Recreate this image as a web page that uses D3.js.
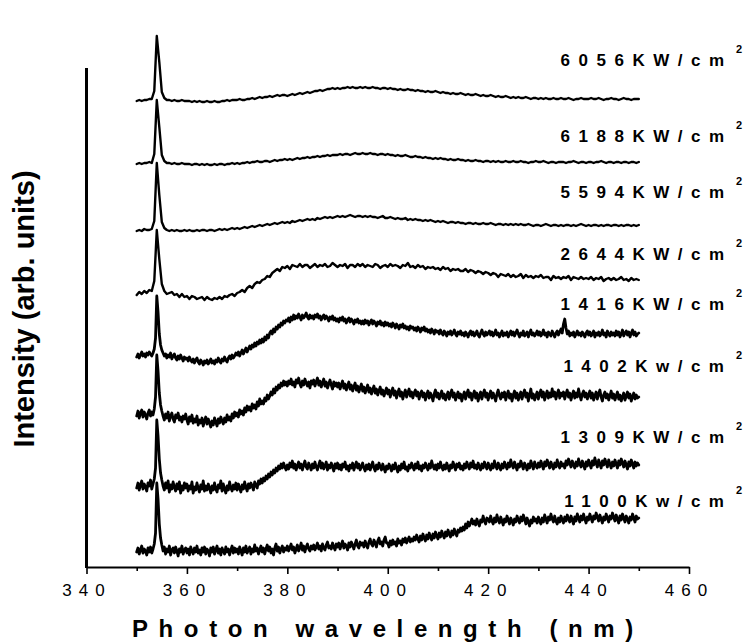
<!DOCTYPE html>
<html>
<head>
<meta charset="utf-8">
<script src="https://cdn.jsdelivr.net/npm/d3@7"></script>
<style>
  body { margin: 0; background: #fff; }
  svg { display: block; }
  text { font-family: Arial, "Liberation Sans", sans-serif; fill: #000; }
</style>
</head>
<body>
<svg id="chart" width="745" height="643"></svg>
<script>
// Emission spectra from 350 to 450 nm, stacked with vertical offsets (arb. units).
// The four high-power spectra were recorded every 0.5 nm, the others every 0.25 nm.
const wavelengthFrom = 350;
const xTickValues = [340, 350, 360, 370, 380, 390, 400, 410, 420, 430, 440, 450, 460];
const xLabelValues = [340, 360, 380, 400, 420, 440, 460];

const powerLabels = ["6056KW/cm", "6188KW/cm", "5594KW/cm", "2644KW/cm",
                     "1416KW/cm", "1402Kw/cm", "1309KW/cm", "1100Kw/cm"];
const sampleSteps = [0.5, 0.5, 0.5, 0.5, 0.25, 0.25, 0.25, 0.25];

const s6056 = [
  466,467,466,467,467,468,468,476,531,505, 475,469,467,467,466,467,466,466,467,466,
  466,466,465,466,465,466,465,465,466,465, 465,466,465,465,466,466,467,466,467,467,
  467,468,467,467,468,468,469,468,469,470, 469,470,470,471,470,471,472,471,472,472,
  471,472,473,472,473,474,473,474,475,474, 475,476,476,477,476,477,478,478,479,478,
  479,478,479,479,480,479,480,479,479,480, 479,480,479,479,480,479,479,478,479,479,
  478,479,478,478,477,478,477,477,478,477, 477,476,477,476,476,475,476,475,475,476,
  475,474,475,474,474,473,474,473,473,474, 473,472,473,472,472,473,472,471,472,471,
  471,472,471,470,471,470,470,471,470,469, 470,469,470,469,469,470,469,468,469,469,
  468,469,468,469,468,468,469,468,468,469, 468,468,469,468,467,468,468,469,468,468,
  468,469,468,468,469,468,467,468,468,469, 468,468,467,468,469,468,468,467,468,468,
  468
];
const s6188 = [
  403,404,403,404,404,405,404,413,467,440, 412,406,404,404,403,404,403,403,404,403,
  403,403,402,403,403,402,403,402,403,402, 402,403,402,403,403,402,403,403,404,403,
  404,403,404,404,405,404,405,405,406,405, 405,406,406,405,406,407,406,407,407,408,
  407,408,407,408,409,408,409,409,410,409, 410,410,411,410,411,411,412,411,412,412,
  412,413,412,413,413,412,413,414,413,413, 414,413,413,414,413,413,412,413,413,412,
  413,412,412,411,412,411,411,412,411,410, 410,411,410,410,409,410,409,409,408,409,
  408,409,408,408,407,408,407,407,408,407, 407,406,407,406,406,407,406,406,405,406,
  406,405,406,405,406,405,405,406,405,405, 406,405,405,406,405,405,404,405,405,406,
  405,405,406,405,404,405,405,404,405,405, 405,404,405,405,406,405,404,405,405,404,
  405,405,404,405,405,406,405,404,405,405, 404,405,405,404,405,405,404,405,405,404,
  405
];
const s5594 = [
  336,337,336,338,337,337,338,346,404,372, 345,339,337,336,337,336,337,336,336,337,
  336,337,336,336,337,336,337,337,336,337, 337,336,337,338,337,338,337,338,339,338,
  339,338,339,340,339,340,341,340,341,342, 341,342,343,342,343,344,343,344,345,344,
  345,344,346,345,346,347,346,347,348,347, 348,347,349,348,349,350,349,350,349,350,
  351,350,351,350,351,352,351,350,351,351, 350,351,350,351,350,350,349,350,351,349,
  349,350,349,348,349,348,348,349,347,348, 347,348,347,347,346,347,346,347,346,345,
  346,345,346,345,344,345,345,344,345,344, 344,343,344,344,343,344,343,343,344,343,
  343,344,343,342,343,343,342,343,342,343, 342,343,342,343,342,342,343,342,341,342,
  342,341,342,343,342,341,342,342,341,342, 341,342,342,341,342,341,342,343,342,341,
  342,341,342,342,341,342,341,342,342,341, 342,342,341,342,341,342,342,341,342,341,
  342
];
const s2644 = [
  272,275,273,276,274,277,276,286,337,308, 283,276,273,274,275,272,273,270,273,270,
  271,268,271,270,268,269,270,267,270,268, 267,269,268,270,268,271,270,272,273,271,
  274,275,277,275,279,281,279,283,285,284, 287,288,291,290,294,296,298,296,300,299,
  301,298,302,301,300,303,300,302,302,299, 301,303,300,302,301,303,300,301,304,302,
  300,302,301,303,299,302,302,300,303,301, 303,300,302,301,300,303,302,299,301,302,
  300,303,301,302,301,299,302,301,304,300, 301,299,302,300,301,298,300,299,300,298,
  299,297,300,298,299,296,298,297,298,296, 296,298,295,297,296,294,296,295,293,295,
  294,292,294,293,290,293,292,291,293,290, 292,290,291,293,289,292,290,291,289,291,
  290,292,289,290,290,287,291,289,290,288, 290,289,291,287,290,289,288,290,288,289,
  288,290,287,289,288,290,286,288,289,287, 289,287,288,290,287,288,286,289,287,288,
  287
];
const s1416 = [
  210,213,209,212,215,211,213,210,214,212, 215,213,211,214,218,229,271,255,233,222,
  217,214,211,213,209,212,210,214,208,211, 213,209,207,211,208,212,209,206,210,208,
  209,206,210,207,205,208,204,207,209,205, 203,207,205,202,206,204,207,203,205,208,
  204,206,203,207,205,209,206,204,208,206, 210,207,205,209,211,208,212,209,211,214,
  212,215,211,214,217,213,216,219,215,218, 221,218,222,220,224,221,225,223,227,224,
  228,225,230,227,232,229,234,236,233,238, 235,240,238,242,240,244,242,246,244,247,
  246,249,245,250,247,252,248,251,249,253, 250,247,252,249,251,254,250,248,252,249,
  251,248,252,250,253,249,251,247,250,252, 248,251,249,246,250,248,251,247,249,246,
  248,245,249,247,250,246,248,244,247,249, 245,248,246,243,247,245,248,244,246,243,
  246,243,247,244,246,242,245,247,243,246, 244,241,245,243,246,242,244,241,245,242,
  244,241,243,240,244,242,239,243,241,238, 242,240,243,239,241,238,240,237,241,239,
  240,237,239,236,240,238,235,239,237,240, 236,238,235,237,234,238,236,233,237,235,
  236,233,237,234,232,236,234,231,235,233, 236,232,234,237,233,231,235,233,236,232,
  234,231,235,233,230,234,236,232,235,231, 233,236,232,230,234,237,233,231,235,232,
  234,236,232,235,231,233,237,232,234,230, 233,236,231,234,232,235,230,233,236,232,
  235,231,234,237,233,230,234,232,236,231, 233,235,230,234,237,232,234,231,233,236,
  232,235,231,233,237,232,234,230,235,233, 231,236,233,230,234,236,232,235,238,234,
  243,248,239,233,236,231,234,232,235,230, 233,236,232,234,231,235,233,230,234,236,
  232,235,231,233,236,230,234,232,235,231, 233,237,232,234,230,236,233,231,235,232,
  234,231,236,232,235,230,233,237,231,234, 236,232,235,230,234,237,232,235,231,233,
  234
];
const s1402 = [
  151,156,149,154,157,150,155,152,148,154, 157,151,155,152,158,170,212,196,174,162,
  156,151,147,153,149,155,146,151,154,148, 145,152,149,154,147,150,145,151,148,153,
  147,143,150,146,152,144,148,145,151,142, 147,144,149,141,146,150,143,148,144,140,
  146,142,149,145,141,148,144,150,146,143, 149,145,152,147,150,146,153,149,155,151,
  154,150,157,153,156,152,159,155,161,157, 160,156,163,159,162,158,165,161,168,163,
  166,163,169,166,172,168,171,175,172,178, 174,180,177,182,179,184,181,186,182,185,
  181,186,183,188,182,185,180,187,184,189, 183,180,186,182,188,184,181,185,179,186,
  183,187,181,185,189,182,186,180,184,188, 181,185,179,183,187,182,178,185,181,184,
  180,184,178,182,186,179,183,177,181,185, 178,182,176,180,184,177,181,175,179,183,
  176,180,174,178,182,175,179,173,177,181, 174,178,172,176,180,173,177,171,175,179,
  173,177,170,175,179,172,176,169,174,178, 171,175,168,173,177,170,174,178,171,175,
  169,174,177,171,175,168,173,176,170,174, 167,172,176,169,174,171,166,173,177,170,
  174,168,172,176,169,173,167,171,175,168, 173,177,170,174,167,171,175,169,173,166,
  171,175,168,173,177,170,174,167,172,176, 169,174,166,171,175,168,173,177,170,174,
  167,172,176,169,174,170,166,173,177,171, 168,174,170,175,167,172,176,169,173,166,
  172,176,169,174,167,171,175,168,173,177, 170,174,166,172,178,169,173,167,171,175,
  168,173,177,170,175,167,172,176,169,174, 170,178,171,175,168,173,177,169,174,171,
  175,168,173,177,170,174,167,172,176,169, 174,170,178,172,167,173,176,170,174,168,
  172,176,169,174,167,171,175,168,173,177, 170,166,172,175,169,173,167,171,176,169,
  173,167,171,175,168,172,166,170,174,167, 171,175,169,173,166,170,174,168,172,169,
  170
];
const s1309 = [
  79,84,77,82,86,78,83,80,76,84, 81,87,78,83,88,99,147,131,108,94,
  87,81,77,84,79,86,75,82,78,85, 80,76,83,78,85,74,81,77,84,79,
  83,76,81,78,85,74,80,77,84,79, 75,82,78,86,76,81,77,83,79,74,
  81,77,84,78,75,82,79,86,76,83, 78,74,81,77,85,79,76,82,78,84,
  77,83,79,75,82,78,85,80,76,83, 79,84,81,77,85,82,79,86,83,88,
  84,89,86,91,88,93,90,95,92,97, 94,99,96,101,98,103,99,104,100,97,
  102,98,104,100,106,99,103,97,101,105, 99,103,97,102,106,100,98,104,101,97,
  103,99,105,100,97,102,106,99,104,98, 101,105,97,102,99,104,100,96,103,99,
  104,98,102,97,103,100,105,98,101,96, 102,99,104,97,101,105,99,103,97,100,
  104,99,96,102,98,103,97,101,105,99, 96,102,98,104,100,97,103,99,95,101,
  98,103,100,96,102,98,104,99,95,101, 97,103,99,105,98,100,96,102,99,104,
  100,97,103,99,105,98,101,96,102,99, 104,100,97,103,99,106,101,98,102,97,
  103,99,105,100,97,102,98,104,100,96, 102,99,105,101,97,103,100,104,98,101,
  97,103,99,105,101,98,104,100,106,99, 102,98,104,100,97,103,99,105,101,98,
  104,100,97,103,99,106,101,98,104,100, 97,103,99,105,101,98,104,100,107,102,
  99,105,101,97,103,100,106,102,98,104, 101,97,103,99,106,102,98,105,101,99,
  104,100,106,102,98,105,101,107,103,99, 105,101,98,104,100,107,102,99,105,101,
  103,99,106,102,108,104,100,106,102,99, 105,101,108,103,100,106,102,98,105,101,
  107,103,99,106,102,109,104,100,107,103, 99,106,102,108,104,100,107,103,99,105,
  101,107,103,99,106,102,108,104,100,106, 102,98,105,101,107,103,99,105,101,104,
  102
];
const s1100 = [
  15,19,13,17,21,14,18,16,12,19, 15,20,14,18,23,34,84,68,43,29,
  22,16,20,13,18,15,21,12,17,19, 14,20,16,11,18,15,21,13,17,19,
  14,18,12,20,16,13,19,15,21,14, 17,12,19,15,20,13,18,16,11,19,
  15,20,13,17,21,14,18,12,19,16, 13,20,15,18,12,17,21,14,19,15,
  18,13,20,16,12,19,15,21,14,17, 20,13,18,15,22,16,19,13,17,21,
  15,19,13,18,22,16,20,14,18,12, 19,23,16,20,14,18,21,15,19,17,
  21,16,19,23,17,20,14,18,22,16, 19,24,17,21,15,20,23,18,16,21,
  18,22,17,20,24,18,21,16,23,19, 17,22,25,19,21,18,24,20,17,23,
  20,24,18,22,26,19,23,21,17,24, 20,25,22,18,23,27,21,19,25,22,
  24,20,26,22,19,25,28,23,21,27, 24,20,26,29,23,25,21,27,30,24,
  24,20,26,22,27,23,25,21,28,24, 26,22,28,25,29,24,27,30,25,28,
  26,30,27,32,28,25,31,27,33,29, 26,32,28,34,30,27,33,29,35,31,
  28,34,30,36,32,29,35,31,37,33, 30,36,32,38,34,31,37,35,39,36,
  40,37,43,39,45,41,44,48,43,46, 42,48,44,41,47,45,51,46,43,49,
  48,45,51,46,43,49,45,52,47,44, 50,46,42,48,45,51,47,43,49,46,
  42,48,45,51,47,44,50,46,52,48, 43,49,45,41,47,44,50,46,48,44,
  50,46,43,49,45,52,48,44,50,47, 53,48,45,51,46,43,49,45,51,47,
  44,50,46,52,48,45,51,47,43,50, 46,53,49,45,51,47,53,48,44,50,
  47,53,49,45,51,48,54,50,46,52, 48,44,50,47,53,49,45,51,48,54,
  50,46,52,48,44,51,47,53,49,45, 51,48,44,50,47,53,49,45,51,48,
  49
];

const spectra = [s6056, s6188, s5594, s2644, s1416, s1402, s1309, s1100]
  .map((values, k) => ({ values, step: sampleSteps[k] }));

const svg = d3.select("#chart");
svg.append("rect").attr("width", 745).attr("height", 643).attr("fill", "#fff");

const x = d3.scaleLinear().domain([340, 460]).range([86.5, 689]);
const y = d3.scaleLinear().domain([0, 499]).range([567, 68]);

// bottom axis: long ticks every 20 nm with labels, short ticks in between
const xAxis = d3.axisBottom(x)
  .tickValues(xTickValues)
  .tickSizeOuter(0)
  .tickFormat(d => xLabelValues.includes(d) ? d : "");
const gx = svg.append("g").attr("transform", `translate(0,${y(0)})`).call(xAxis);
gx.select(".domain").attr("stroke", "#000").attr("stroke-width", 2);
gx.selectAll(".tick line")
  .attr("stroke", "#000").attr("stroke-width", 1.6)
  .attr("y2", d => xLabelValues.includes(d) ? 7 : 4);
gx.selectAll(".tick text")
  .attr("y", 29).attr("dy", 0)
  .style("font-family", 'Arial, "Liberation Sans", sans-serif')
  .style("font-size", "17px")
  .style("letter-spacing", "7px")
  .attr("fill", "#000");

// left axis: bare line
svg.append("line")
  .attr("x1", x(340)).attr("x2", x(340))
  .attr("y1", y(0) + 1).attr("y2", y(499))
  .attr("stroke", "#000").attr("stroke-width", 3);

// spectra; the noisier low-power traces are drawn slightly heavier
const line = step => d3.line()
  .x((d, i) => x(wavelengthFrom + i * step))
  .y(d => y(d));

svg.append("g").selectAll("path")
  .data(spectra)
  .join("path")
  .attr("d", s => line(s.step)(s.values))
  .attr("fill", "none")
  .attr("stroke", "#000")
  .attr("stroke-width", s => s.step < 0.5 ? 2.8 : 2.4)
  .attr("stroke-linejoin", "round")
  .attr("stroke-linecap", "round");

// power density labels, right-aligned, with a raised "2"
const labelBaselines = [66, 142, 198, 260, 310, 372, 443, 507];
const labelSpacing = 8.5;
const labelRight = 724;
const lbl = svg.append("g").selectAll("g")
  .data(powerLabels)
  .join("g");
lbl.append("text")
  .attr("x", labelRight + labelSpacing)
  .attr("y", (d, i) => labelBaselines[i])
  .attr("text-anchor", "end")
  .style("font-size", "17px")
  .style("font-weight", "bold")
  .style("letter-spacing", labelSpacing + "px")
  .text(d => d);
lbl.append("text")
  .attr("x", labelRight + 12)
  .attr("y", (d, i) => labelBaselines[i] - 13)
  .style("font-size", "11px")
  .style("font-weight", "bold")
  .text("2");

// axis titles
svg.append("text")
  .attr("x", 132).attr("y", 637)
  .style("font-size", "24px")
  .style("font-weight", "bold")
  .style("letter-spacing", "10.6px")
  .text("Photon wavelength (nm)");

svg.append("text")
  .attr("transform", "translate(34,309) rotate(-90)")
  .attr("text-anchor", "middle")
  .style("font-size", "29px")
  .style("font-weight", "bold")
  .text("Intensity (arb. units)");
</script>
</body>
</html>
